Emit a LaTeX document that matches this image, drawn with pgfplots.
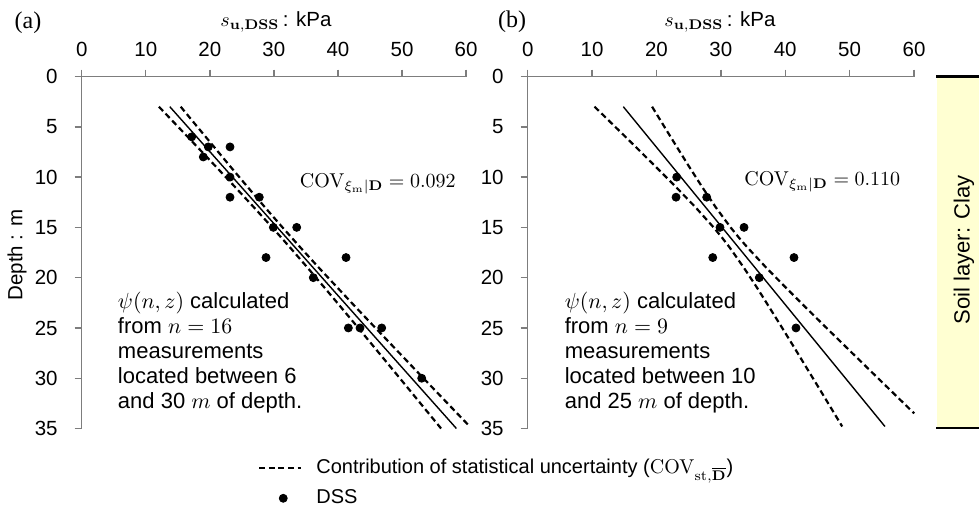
\documentclass[border=0pt]{standalone}
\usepackage[no-math]{fontspec}
\setmainfont{Liberation Sans}
\newfontfamily\seriffont{Liberation Serif}
\usepackage{pgfplots}
\pgfplotsset{compat=1.18}
\definecolor{soil}{RGB}{255,255,210}
\definecolor{axgray}{RGB}{125,125,125}
\newcommand{\fs}{\fontsize{10.25}{12.5}\selectfont}
\newcommand{\fb}{\fontsize{11}{12.5}\selectfont}
\newcommand{\fl}{\fontsize{10}{12}\selectfont}
\pgfplotsset{
  panel/.style={
    scale only axis, height=176pt,
    xmin=0, xmax=60, ymin=0, ymax=35, y dir=reverse,
    axis x line=top, axis y line=left,
    axis line style={-, draw=axgray, line width=0.7pt},
    tick style={draw=axgray, line width=0.7pt},
    tick align=outside, major tick length=3.5pt,
    xtick={0,10,...,60}, ytick={0,5,...,35},
    /pgf/number format/assume math mode=true,
    tick label style={font=\fs, black},
    yticklabel style={xshift=-5pt},
    xticklabel style={yshift=3pt},
    clip=false,
  },
  dashline/.style={black, line width=1.1pt, dash pattern=on 3pt off 1.8pt},
  fitline/.style={black, line width=0.7pt},
  dss/.style={only marks, mark=*, mark size=2pt, black},
  dashleg/.style={legend image code/.code={\draw[##1] (0pt,0pt) -- (21pt,0pt);}},
  dotleg/.style={legend image code/.code={\draw[mark repeat=2,mark phase=2,##1] plot coordinates {(0pt,0pt) (12pt,0pt) (21pt,0pt)};}},
}
\begin{document}
\begin{tikzpicture}
\path[use as bounding box] (0pt,0pt) rectangle (489.5pt,-255.5pt);

% ---------------- panel (a)
\begin{axis}[panel, width=192.2pt, at={(40.85pt,-38.25pt)}, anchor=north west,
  legend style={at={(axis description cs:0.458,-0.075)}, anchor=north west,
    draw=none, fill=none, inner sep=0pt, font=\fl, row sep=2.5pt,
    /tikz/every odd column/.append style={column sep=5pt}},
  legend cell align=left]
\addplot[dashline, dashleg] coordinates {
(12.05,3) (15.05,5) (18.04,7) (21.01,9) (23.96,11) (26.87,13) (29.73,15) (32.52,17) (35.24,19)
(37.91,21) (40.55,23) (43.17,25) (45.77,27) (48.36,29) (50.95,31) (53.52,33) (56.10,35)};
\addlegendentry{Contribution of statistical uncertainty ($\mathrm{COV}_{\mathrm{st},\overline{\mathbf{D}}}$)}
\addplot[dashline, forget plot] coordinates {
(15.45,3) (18.05,5) (20.66,7) (23.27,9) (25.92,11) (28.60,13) (31.34,15) (34.14,17) (37.00,19)
(39.93,21) (42.87,23) (45.85,25) (48.85,27) (51.84,29) (54.85,31) (57.86,33) (60.35,34.65)};
\addplot[fitline, forget plot] coordinates {(13.75,3) (58.49,35)};
\addplot[dss, dotleg] coordinates {
(17.17,6) (19.76,7) (23.15,7) (18.98,8) (23.15,10) (23.15,12) (27.72,12) (29.91,15) (33.56,15)
(28.77,18) (41.26,18) (36.15,20) (41.62,25) (43.44,25) (46.83,25) (53.07,30)};
\addlegendentry{DSS}
\node[anchor=base west, inner sep=0pt, font=\fontsize{10}{12}\selectfont] at (axis cs:34,11.0)
  {$\mathrm{COV}_{\xi_\mathrm{m}|\mathbf{D}} = 0.092$};
\node[anchor=north west, inner sep=0pt, align=left, font=\fb] at (axis cs:5.6,21.4)
  {$\psi(n,z)$ calculated\\from $n = 16$\\measurements\\located between 6\\and 30 $m$ of depth.};
\end{axis}

% ---------------- panel (b)
\begin{axis}[panel, width=193.15pt, at={(263.85pt,-38.25pt)}, anchor=north west]
\addplot[dashline] coordinates {
(10.38,3) (13.59,5) (16.78,7) (19.93,9) (23.05,11) (26.06,13) (28.87,15) (30.16,16) (31.37,17)
(33.56,19) (35.62,21) (37.58,23) (39.53,25) (41.45,27) (43.35,29) (45.26,31) (47.15,33) (48.85,34.8)};
\addplot[dashline] coordinates {
(19.32,3) (21.23,5) (23.16,7) (25.11,9) (27.11,11) (29.20,13) (31.51,15) (32.78,16) (34.13,17)
(37.04,19) (40.11,21) (43.24,23) (46.41,25) (49.61,27) (52.81,29) (56.02,31) (59.23,33) (60.04,33.5)};
\addplot[fitline] coordinates {(14.85,3) (55.49,34.8)};
\addplot[dss] coordinates {
(23.14,10) (23.04,12) (27.80,12) (29.87,15) (33.60,15) (28.74,18) (41.36,18) (35.97,20) (41.67,25)};
\node[anchor=base west, inner sep=0pt, font=\fontsize{10}{12}\selectfont] at (axis cs:33.6,10.8)
  {$\mathrm{COV}_{\xi_\mathrm{m}|\mathbf{D}} = 0.110$};
\node[anchor=north west, inner sep=0pt, align=left, font=\fb] at (axis cs:5.7,21.4)
  {$\psi(n,z)$ calculated\\from $n = 9$\\measurements\\located between 10\\and 25 $m$ of depth.};
\end{axis}

% ---------------- labels
\node[font=\seriffont\fontsize{12}{14}\selectfont] at (14pt,-11.25pt) {(a)};
\node[font=\seriffont\fontsize{12}{14}\selectfont] at (256pt,-11pt) {(b)};
\node[font=\fs] at (138pt,-11pt) {$s_{\mathbf{u,DSS}}$\,: kPa};
\node[font=\fs] at (360pt,-11pt) {$s_{\mathbf{u,DSS}}$\,: kPa};
\node[font=\fs, rotate=90] at (8.5pt,-127.5pt) {Depth : m};

% ---------------- soil layer box
\fill[soil] (468.5pt,-38.25pt) rectangle (489.5pt,-214pt);
\draw[black, line width=1.2pt] (468pt,-38.25pt) -- (489.5pt,-38.25pt);
\draw[black, line width=1.2pt] (468pt,-214pt) -- (489.5pt,-214pt);
\node[font=\fb, rotate=90] at (482pt,-125pt) {Soil layer: Clay};
\end{tikzpicture}
\end{document}
